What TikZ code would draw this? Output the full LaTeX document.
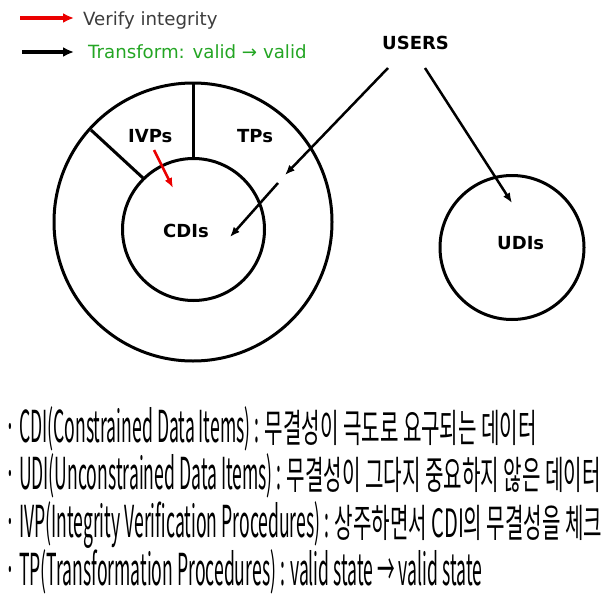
\documentclass[tikz,border=0pt]{standalone}
\usepackage{fontspec}
\setmainfont{DejaVu Sans}
\newfontfamily\krfont{Noto Sans CJK KR}
\usepackage{graphicx}
\usetikzlibrary{
	arrows.meta
}
\definecolor{verify}{RGB}{235,0,0}
\definecolor{transform}{RGB}{35,165,35}
\definecolor{legendtext}{RGB}{60,60,60}
\tikzset{
  % line
	cstline/.style    ={line width=3pt},
  % arrow
	cstra/.style      ={-{Latex[length=10pt,width=8pt]}, line width=2.5pt},
	cstlegra/.style   ={-{Latex[length=11pt,width=10pt]}, line width=3.5pt},
  % node
	cstlabel/.style   ={font=\fontsize{18}{20}\selectfont\bfseries, inner sep=0pt, anchor=base west},
	cstlegend/.style  ={font=\fontsize{18.2}{20}\selectfont, inner sep=0pt, anchor=base west},
	cstdesc/.style    ={font=\krfont, inner sep=0pt, anchor=base west}
}
% squeezed latin and hangul parts of the notes
\newcommand{\cstlat}[1]{{\fontsize{44}{48}\selectfont\scalebox{0.40}[1]{#1}}}
\newcommand{\cstkr}[1]{{\fontsize{39}{44}\selectfont\scalebox{0.515}[1]{#1}}}

\begin{document}
\begin{tikzpicture}[x=1pt,y=-1pt]
				\useasboundingbox (0,0) rectangle (611,613);
				% legend
				\coordinate (LV) at (20,18);
				\coordinate (LT) at (22,52);
				\node[cstlegend,legendtext] (legverify) at (83,25) {Verify integrity};
				\node[cstlegend,transform] (legtransform) at (88,58) {Transform: valid → valid};
				\draw[cstlegra,verify] (LV) -- ([xshift=-9pt]legverify.west |- LV);
				\draw[cstlegra] (LT) -- ([xshift=-14pt]legtransform.west |- LT);
				% circles
				\draw[cstline] (193,222) circle (139pt);
				\draw[cstline] (193.5,229.5) circle (71pt);
				\draw[cstline] (512,247.5) circle (72pt);
				\draw[cstline] (193,83) -- (193,158.5);
				\draw[cstline] (91,130) -- (143,178);
				% labels
				\node[cstlabel] (users) at (382,49) {USERS};
				\node[cstlabel] (ivps) at (128,142) {IVPs};
				\node[cstlabel] (tps) at (237,142) {TPs};
				\node[cstlabel] (cdis) at (163,237) {CDIs};
				\node[cstlabel] (udis) at (497,249) {UDIs};
				% arrows
				\coordinate (UA) at (388,68);
				\coordinate (UB) at (425,68);
				\coordinate (TA) at (285,175);
				\coordinate (TB) at (278,183);
				\coordinate (CA) at (230,237);
				\coordinate (DA) at (512,203);
				\coordinate (VA) at (154,150);
				\coordinate (VB) at (173,188);
				\draw[cstra] (UA) -- (TA);
				\draw[cstra] (TB) -- (CA);
				\draw[cstra] (UB) -- (DA);
				\draw[cstra,verify] (VA) -- (VB);
				% description
				\node[cstdesc] (cdi) at (5,442) {\cstlat{· CDI(Constrained Data Items) : }\cstkr{무결성이 극도로 요구되는 데이터}};
				\node[cstdesc] (udi) at (5,489) {\cstlat{· UDI(Unconstrained Data Items) : }\cstkr{무결성이 그다지 중요하지 않은 데이터}};
				\node[cstdesc] (ivp) at (5,537) {\cstlat{· IVP(Integrity Verification Procedures) : }\cstkr{상주하면서 CDI의 무결성을 체크}};
				\node[cstdesc] (tp) at (5,585) {\cstlat{· TP(Transformation Procedures) : valid state → valid state}};
			\end{tikzpicture}
\end{document}
